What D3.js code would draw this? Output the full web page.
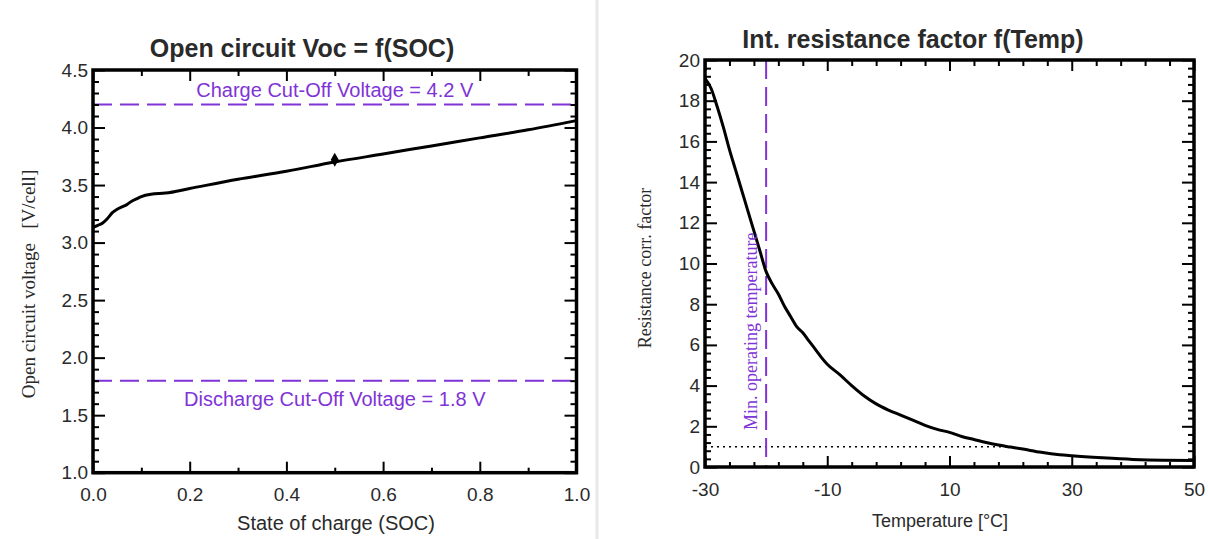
<!DOCTYPE html>
<html>
<head>
<meta charset="utf-8">
<script src="https://cdn.jsdelivr.net/npm/d3@7"></script>
<style>
  body { margin: 0; background: #fff; }
  svg { display: block; }
  .tick text { font-family: "Liberation Sans", Arial, sans-serif; font-size: 19px; fill: #2a2a2a; }
</style>
</head>
<body>
<svg id="chart" width="1208" height="539"></svg>
<script>
// left chart: open circuit voltage vs state of charge
const socValues = [0, 0.01, 0.02, 0.03, 0.04, 0.05, 0.06, 0.07, 0.08, 0.09, 0.1, 0.12, 0.15, 0.2, 0.3, 0.4, 0.5, 0.6, 0.7, 0.8, 0.9, 1.0];
const vocValues = [3.13, 3.15, 3.17, 3.21, 3.26, 3.29, 3.31, 3.33, 3.36, 3.38, 3.40, 3.42, 3.43, 3.47, 3.55, 3.62, 3.70, 3.77, 3.84, 3.91, 3.98, 4.06];
const socMarker = [0.5];
const vocMarker = [3.72];
const socTicks = [0, 0.2, 0.4, 0.6, 0.8, 1.0];
const voltTicks = [1.0, 1.5, 2.0, 2.5, 3.0, 3.5, 4.0, 4.5];
const cutOffValues = [4.2, 1.8];
const cutOffLabels = ["Charge Cut-Off Voltage = 4.2 V", "Discharge Cut-Off Voltage = 1.8 V"];

// right chart: internal resistance factor vs temperature
const tempValues = [-30, -29, -28, -27, -26, -25, -24, -23, -22, -21, -20, -19, -18, -17, -16, -15, -14, -13, -12, -11, -10, -8, -6, -4, -2, 0, 2, 4, 6, 8, 10, 12, 14, 16, 18, 20, 22, 25, 28, 30, 35, 40, 45, 50];
const factorValues = [19.1, 18.6, 17.7, 16.7, 15.6, 14.6, 13.6, 12.6, 11.6, 10.6, 9.6, 9.0, 8.5, 7.9, 7.4, 6.9, 6.6, 6.2, 5.8, 5.4, 5.05, 4.55, 4.0, 3.5, 3.1, 2.8, 2.55, 2.3, 2.05, 1.85, 1.7, 1.5, 1.35, 1.2, 1.08, 0.98, 0.88, 0.72, 0.6, 0.55, 0.45, 0.37, 0.33, 0.32];
const tempTicks = [-30, -10, 10, 30, 50];
const factorTicks = [0, 2, 4, 6, 8, 10, 12, 14, 16, 18, 20];
const minTemp = -20;
const refFactor = [1];
const refTempRange = [-30, 20];

const purple = "#8033d6";
const svg = d3.select("#chart");

// divider between the two panels
svg.append("line").attr("x1", 597).attr("x2", 597).attr("y1", 0).attr("y2", 539)
  .attr("stroke", "#e8e8e8").attr("stroke-width", 3);

function frame(g, x, y, o) {
  let x0 = x.range()[0], x1 = x.range()[1], y0 = y.range()[0], y1 = y.range()[1];
  let minorX = o.xMinor.filter(function (v) { return o.xMajor.indexOf(v) < 0; });
  let minorY = o.yMinor.filter(function (v) { return o.yMajor.indexOf(v) < 0; });

  // minor ticks on all four sides
  g.append("g").attr("transform", "translate(0," + y0 + ")").call(d3.axisBottom(x).tickValues(minorX).tickSize(-5).tickFormat(""));
  g.append("g").attr("transform", "translate(0," + y1 + ")").call(d3.axisTop(x).tickValues(minorX).tickSize(-6).tickFormat(""));
  g.append("g").attr("transform", "translate(" + x0 + ",0)").call(d3.axisLeft(y).tickValues(minorY).tickSize(-6).tickFormat(""));
  g.append("g").attr("transform", "translate(" + x1 + ",0)").call(d3.axisRight(y).tickValues(minorY).tickSize(-6).tickFormat(""));

  // major ticks, labels only bottom and left
  g.append("g").attr("transform", "translate(0," + y0 + ")")
    .call(d3.axisBottom(x).tickValues(o.xMajor).tickSize(-11).tickPadding(o.xPad).tickFormat(o.xFmt));
  g.append("g").attr("transform", "translate(0," + y1 + ")").call(d3.axisTop(x).tickValues(o.xMajor).tickSize(-11).tickFormat(""));
  g.append("g").attr("transform", "translate(" + x0 + ",0)")
    .call(d3.axisLeft(y).tickValues(o.yMajor).tickSize(-12).tickPadding(5).tickFormat(o.yFmt));
  g.append("g").attr("transform", "translate(" + x1 + ",0)").call(d3.axisRight(y).tickValues(o.yMajor).tickSize(-12).tickFormat(""));

  g.selectAll(".domain").remove();
  g.selectAll(".tick line").attr("stroke", "#000").attr("stroke-width", 2);

  g.append("rect").attr("x", x0).attr("y", y1).attr("width", x1 - x0).attr("height", y0 - y1)
    .attr("fill", "none").attr("stroke", "#000").attr("stroke-width", 3.5);
}

function title(txt, cx, cy) {
  svg.append("text").attr("x", cx).attr("y", cy).attr("text-anchor", "middle")
    .style("font-family", "'Liberation Sans', Arial, sans-serif").style("font-size", "25px").style("font-weight", "bold")
    .attr("fill", "#2a2a2a").text(txt);
}

function sansLabel(txt, cx, cy, size) {
  svg.append("text").attr("x", cx).attr("y", cy).attr("text-anchor", "middle")
    .style("font-family", "'Liberation Sans', Arial, sans-serif").style("font-size", size + "px")
    .attr("fill", "#2a2a2a").text(txt);
}

function serifLabel(txt, cx, cy, anchor, color, size) {
  svg.append("text").attr("transform", "translate(" + cx + "," + cy + ") rotate(-90)").attr("text-anchor", anchor)
    .style("font-family", "'Liberation Serif', 'Times New Roman', serif").style("font-size", size + "px")
    .style("white-space", "pre")
    .attr("fill", color).text(txt);
}

// plain hyphen for negatives, like the original
let intFmt = function (d) { return String(d); };

// ---------- left chart ----------
let xL = d3.scaleLinear().domain([0, 1]).range([93, 576.5]);
let yL = d3.scaleLinear().domain([1, 4.5]).range([472.7, 70]);
let gL = svg.append("g");

gL.append("clipPath").attr("id", "clipL").append("rect")
  .attr("x", 93).attr("y", 70).attr("width", 576.5 - 93).attr("height", 472.7 - 70);

gL.selectAll(".cutoff").data(cutOffValues).enter().append("line").attr("class", "cutoff")
  .attr("x1", xL(0)).attr("x2", xL(1))
  .attr("y1", function (d) { return yL(d); }).attr("y2", function (d) { return yL(d); })
  .attr("stroke", purple).attr("stroke-width", 2).attr("stroke-dasharray", "19,8");

gL.selectAll(".cutlabel").data(cutOffLabels).enter().append("text").attr("class", "cutlabel")
  .attr("x", xL(0.5)).attr("y", function (d, i) { return yL(cutOffValues[i]) + (i === 0 ? -8 : 25); })
  .attr("text-anchor", "middle")
  .style("font-family", "'Liberation Sans', Arial, sans-serif").style("font-size", "20px")
  .attr("fill", purple).text(function (d) { return d; });

let lineL = d3.line().x(function (d, i) { return xL(socValues[i]); }).y(function (d) { return yL(d); }).curve(d3.curveMonotoneX);
gL.append("path").datum(vocValues).attr("d", lineL).attr("clip-path", "url(#clipL)")
  .attr("fill", "none").attr("stroke", "#000").attr("stroke-width", 3);

gL.selectAll(".mark").data(vocMarker).enter().append("path").attr("class", "mark")
  .attr("transform", function (d, i) { return "translate(" + xL(socMarker[i]) + "," + yL(d) + ")"; })
  .attr("d", d3.symbol().type(d3.symbolDiamond).size(55)).attr("fill", "#000");

frame(gL, xL, yL, {
  xMajor: socTicks, xMinor: d3.range(0, 1.001, 0.1).map(function (v) { return +v.toFixed(1); }),
  yMajor: voltTicks, yMinor: d3.range(1, 4.501, 0.1).map(function (v) { return +v.toFixed(1); }),
  xFmt: d3.format(".1f"), yFmt: d3.format(".1f"), xPad: 15
});

title("Open circuit Voc = f(SOC)", 302, 57);
sansLabel("State of charge (SOC)", 336, 530, 20);
serifLabel("Open circuit voltage   [V/cell]", 35, 284, "middle", "#2a2a2a", 19);

// ---------- right chart ----------
let xR = d3.scaleLinear().domain([-30, 50]).range([705, 1194]);
let yR = d3.scaleLinear().domain([0, 20]).range([467, 60]);
let gR = svg.append("g");

gR.append("clipPath").attr("id", "clipR").append("rect")
  .attr("x", 705).attr("y", 60).attr("width", 1194 - 705).attr("height", 467 - 60);

gR.selectAll(".ref").data(refFactor).enter().append("line").attr("class", "ref")
  .attr("x1", xR(refTempRange[0])).attr("x2", xR(refTempRange[1]))
  .attr("y1", function (d) { return yR(d); }).attr("y2", function (d) { return yR(d); })
  .attr("stroke", "#000").attr("stroke-width", 1.5).attr("stroke-dasharray", "2,4");

gR.append("line").attr("x1", xR(minTemp)).attr("x2", xR(minTemp)).attr("y1", yR(20)).attr("y2", yR(0))
  .attr("stroke", purple).attr("stroke-width", 2).attr("stroke-dasharray", "19,8");

serifLabel("Min. operating temperature", xR(minTemp) - 9, 430, "start", purple, 18);

let lineR = d3.line().x(function (d, i) { return xR(tempValues[i]); }).y(function (d) { return yR(d); }).curve(d3.curveMonotoneX);
gR.append("path").datum(factorValues).attr("d", lineR).attr("clip-path", "url(#clipR)")
  .attr("fill", "none").attr("stroke", "#000").attr("stroke-width", 3);

frame(gR, xR, yR, {
  xMajor: tempTicks, xMinor: d3.range(-30, 50.001, 4),
  yMajor: factorTicks, yMinor: d3.range(0, 20.001, 0.4).map(function (v) { return +v.toFixed(1); }),
  xFmt: intFmt, yFmt: intFmt, xPad: 16
});

title("Int. resistance factor f(Temp)", 913, 48);
sansLabel("Temperature [°C]", 940, 527, 18);
serifLabel("Resistance corr. factor", 651, 268, "middle", "#2a2a2a", 18);
</script>
</body>
</html>
